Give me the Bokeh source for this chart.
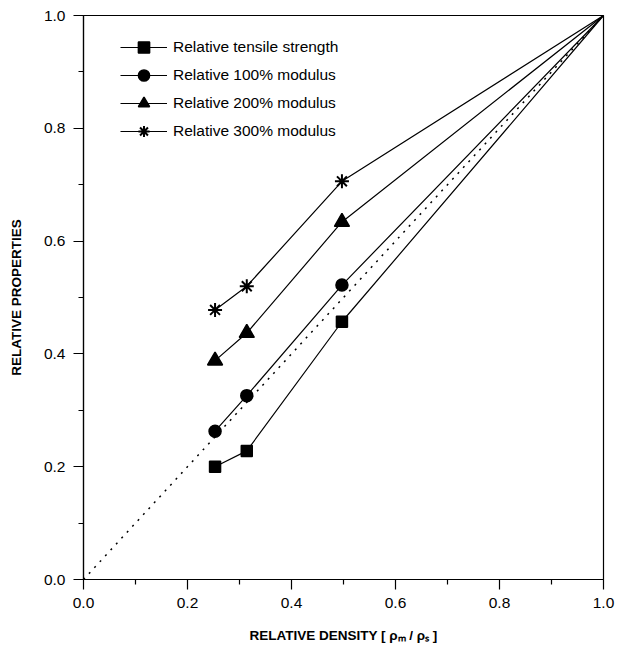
from bokeh.plotting import figure
from bokeh.models import Range1d, Legend, LegendItem, FixedTicker, PrintfTickFormatter
from bokeh.embed import file_html
from bokeh.resources import INLINE

density = [0.253, 0.314, 0.497, 1.0]
tensile = [0.200, 0.228, 0.457, 1.0]
mod100 = [0.263, 0.326, 0.522, 1.0]
mod200 = [0.388, 0.437, 0.634, 1.0]
mod300 = [0.478, 0.520, 0.706, 1.0]
ref_x = [0.0, 1.0]
ref_y = [0.0, 1.0]
ticks = [0.0, 0.2, 0.4, 0.6, 0.8, 1.0]
minor = [0.1, 0.3, 0.5, 0.7, 0.9]

FONT = "Liberation Sans"

p = figure(width=623, height=650, output_backend="svg", toolbar_location=None,
           x_range=Range1d(0, 1), y_range=Range1d(0, 1),
           min_border_left=83, min_border_right=20, min_border_top=15, min_border_bottom=71)
p.grid.visible = False
p.outline_line_color = "black"
p.outline_line_width = 1.2
p.background_fill_color = "white"

for ax in (p.xaxis[0], p.yaxis[0]):
    ax.ticker = FixedTicker(ticks=ticks, minor_ticks=minor)
    ax.formatter = PrintfTickFormatter(format="%.1f")
    ax.major_tick_out = 10
    ax.major_tick_in = 0
    ax.minor_tick_out = 5
    ax.minor_tick_in = 0
    ax.axis_line_color = "black"
    ax.axis_line_width = 1.2
    ax.major_tick_line_width = 1.2
    ax.minor_tick_line_width = 1.2
    ax.major_label_text_font = FONT
    ax.major_label_text_font_size = "15.5px"
    ax.major_label_text_color = "black"
    ax.axis_label_text_font = FONT
    ax.axis_label_text_font_style = "bold"
    ax.axis_label_text_font_size = "13.5px"
    ax.axis_label_text_color = "black"

p.xaxis.axis_label = "RELATIVE DENSITY [ ρₘ / ρₛ ]"
p.yaxis.axis_label = "RELATIVE PROPERTIES"
p.xaxis.axis_label_standoff = 17
p.yaxis.axis_label_standoff = 17
p.xaxis.major_label_standoff = 8
p.yaxis.major_label_standoff = 8

p.line(ref_x, ref_y, line_color="black", line_width=1.5, line_dash="2 6")

items = []
specs = [
    (tensile, "square", 11, "Relative tensile strength"),
    (mod100, "circle", 12, "Relative 100% modulus"),
    (mod200, "triangle", 15, "Relative 200% modulus"),
    (mod300, "asterisk", 14, "Relative 300% modulus"),
]
for ys, marker, size, label in specs:
    l = p.line(density, ys, line_color="black", line_width=1.2)
    m = p.scatter(density[:3], ys[:3], marker=marker, size=size, fill_color="black",
                  line_color="black", line_width=2 if marker == "asterisk" else 1.5)
    items.append(LegendItem(label=label, renderers=[l, m]))

legend = Legend(items=items, location=(37, 434), border_line_color=None,
                background_fill_alpha=0, padding=0, spacing=0,
                glyph_width=47, glyph_height=28, label_height=28,
                label_standoff=6, label_text_font=FONT,
                label_text_font_size="15.5px", label_text_color="black")
p.add_layout(legend)

open("out.html", "w").write(file_html(p, INLINE))
